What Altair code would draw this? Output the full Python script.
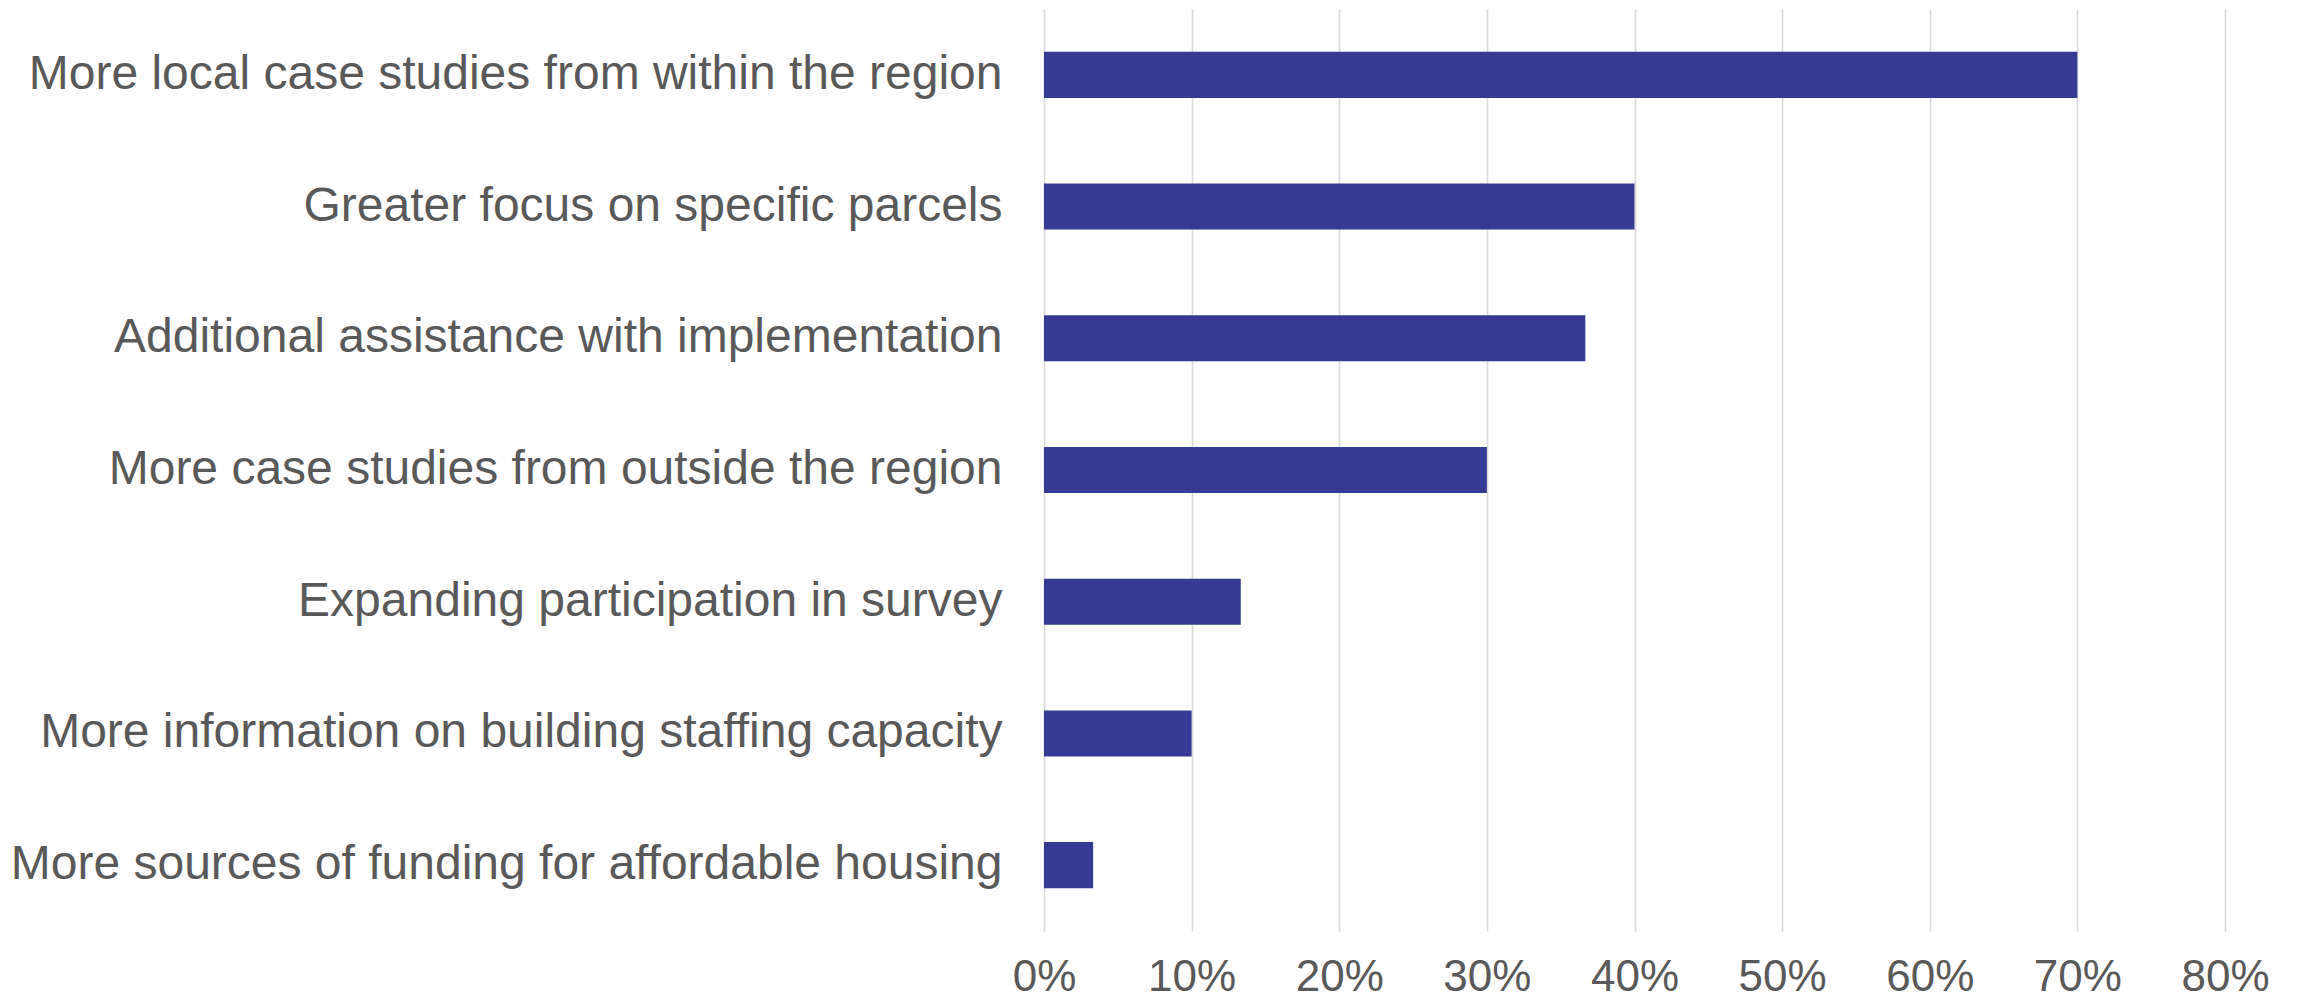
import altair as alt
import pandas as pd

categories = [
    "More local case studies from within the region",
    "Greater focus on specific parcels",
    "Additional assistance with implementation",
    "More case studies from outside the region",
    "Expanding participation in survey",
    "More information on building staffing capacity",
    "More sources of funding for affordable housing",
]
shares = [0.70, 0.40, 0.3667, 0.30, 0.1333, 0.10, 0.0333]
tick_values = [0, 0.1, 0.2, 0.3, 0.4, 0.5, 0.6, 0.7, 0.8]

df = pd.DataFrame({"category": categories, "share": shares})

chart = (
    alt.Chart(df)
    .mark_bar(color="#353b94")
    .encode(
        y=alt.Y(
            "category:N",
            sort=categories,
            title=None,
            scale=alt.Scale(paddingInner=0.65, paddingOuter=0.325),
            axis=alt.Axis(
                ticks=False,
                tickSize=0,
                domain=False,
                labelPadding=42,
                labelFontSize=48,
                labelFont="Liberation Sans",
                labelColor="#595959",
                labelLimit=1200,
                grid=False,
            ),
        ),
        x=alt.X(
            "share:Q",
            title=None,
            scale=alt.Scale(domain=[0, 0.8], nice=False),
            axis=alt.Axis(
                values=tick_values,
                format=".0%",
                ticks=False,
                tickSize=0,
                domain=False,
                labelFlush=False,
                labelPadding=24,
                labelFontSize=44,
                labelFont="Liberation Sans",
                labelColor="#595959",
                grid=True,
                gridColor="#d9d9d9",
                gridWidth=1.6,
            ),
        ),
    )
    .properties(
        width=1181,
        height=922,
        background="white",
        autosize=alt.AutoSizeParams(type="none"),
        padding={"left": 1036, "top": 1, "right": 60, "bottom": 70},
    )
    .configure_view(strokeWidth=0, stroke=None)
)

chart.save("out.html", embed_options={"renderer": "svg", "actions": False})
